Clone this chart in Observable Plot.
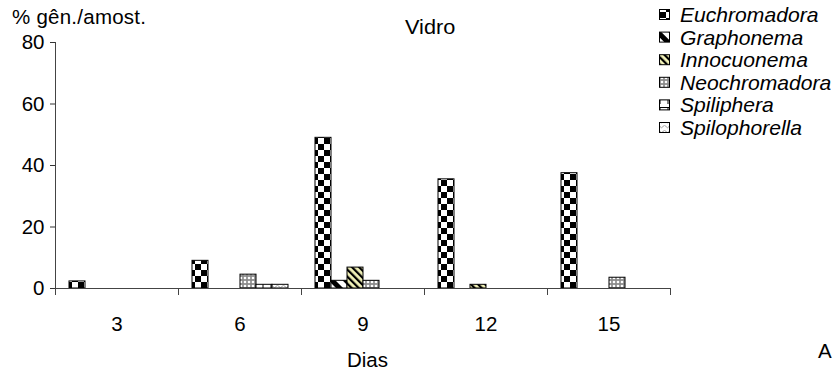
<!DOCTYPE html>
<html><head><meta charset="utf-8">
<script src="https://cdn.jsdelivr.net/npm/d3@7"></script>
<script src="https://cdn.jsdelivr.net/npm/@observablehq/plot@0.6"></script>
<style>
body{margin:0;background:#fff}
#chart svg text{font-family:"Liberation Sans",Arial,sans-serif}
</style>
</head><body>
<svg width="0" height="0" style="position:absolute">
<defs>
  <pattern id="pEuch" patternUnits="userSpaceOnUse" width="12" height="12">
    <rect width="12" height="12" fill="#fff"/>
    <rect x="0" y="0" width="6" height="6" fill="#000"/>
    <rect x="6" y="6" width="6" height="6" fill="#000"/>
  </pattern>
  <pattern id="pGraph" patternUnits="userSpaceOnUse" width="10" height="10" patternTransform="rotate(-45)">
    <rect width="10" height="10" fill="#fff"/>
    <rect x="0" y="0" width="5" height="10" fill="#000"/>
  </pattern>
  <pattern id="pInnoc" patternUnits="userSpaceOnUse" width="5" height="5" patternTransform="rotate(-45)">
    <rect width="5" height="5" fill="#f2f2b8"/>
    <rect x="0" y="0" width="2.2" height="5" fill="#000"/>
  </pattern>
  <pattern id="pNeo" patternUnits="userSpaceOnUse" width="4" height="4">
    <rect width="4" height="4" fill="#8c8c8c"/>
    <circle cx="2" cy="2" r="1.3" fill="#fff"/>
  </pattern>
  <pattern id="pSpiliph" patternUnits="userSpaceOnUse" width="8" height="8">
    <rect width="8" height="8" fill="#fff"/>
    <line x1="0" y1="3.5" x2="8" y2="3.5" stroke="#000" stroke-width="1"/>
    <line x1="4" y1="3.5" x2="4" y2="8" stroke="#000" stroke-width="1"/>
  </pattern>
  <pattern id="pSpiloph" patternUnits="userSpaceOnUse" width="6" height="5">
    <rect width="6" height="5" fill="#fff"/>
    <path d="M0,1.5 Q1.5,4 3,1.5 T6,1.5" fill="none" stroke="#888" stroke-width="0.8"/>
  </pattern>
</defs>
</svg>
<div id="chart"></div>
<script>
const dias = [3, 6, 9, 12, 15];
const generos = ["Euchromadora", "Graphonema", "Innocuonema", "Neochromadora", "Spiliphera", "Spilophorella"];
const euchromadora  = [2.3, 9, 49, 35.5, 37.5];
const graphonema    = [0, 0, 2.5, 0, 0];
const innocuonema   = [0, 0, 6.8, 1.2, 0];
const neochromadora = [0, 4.5, 2.5, 0, 3.5];
const spiliphera    = [0, 1.2, 0, 0, 0];
const spilophorella = [0, 1.2, 0, 0, 0];
const yTicks = [0, 20, 40, 60, 80];
const yDomain = [0, 80];
const padroes = ["url(#pEuch)", "url(#pGraph)", "url(#pInnoc)", "url(#pNeo)", "url(#pSpiliph)", "url(#pSpiloph)"];

const series = [euchromadora, graphonema, innocuonema, neochromadora, spiliphera, spilophorella];
const rows = [];
generos.forEach((g, i) => dias.forEach((d, j) => {
  if (series[i][j] > 0) rows.push({dia: d, genero: g, valor: series[i][j]});
}));

const FONT = "Liberation Sans, Arial, sans-serif";
const FS = 20.5;
const plot = Plot.plot({
  width: 836, height: 375,
  marginTop: 42, marginBottom: 87, marginLeft: 55, marginRight: 166,
  style: {fontFamily: FONT, fontSize: FS + "px", color: "#000", background: "#fff", overflow: "visible"},
  fx: {domain: dias, padding: 0, label: null, axis: null},
  x: {domain: generos, paddingInner: 0, paddingOuter: 0.73, axis: null},
  y: {domain: yDomain, label: null, axis: null},
  color: {domain: generos, range: padroes},
  marks: [
    Plot.axisY({ticks: yTicks, tickSize: 5, tickPadding: 6, stroke: "#333", fill: "#000", label: null}),
    Plot.axisFx({anchor: "bottom", tickSize: 0, tickPadding: 28, label: null, fill: "#000"}),
    Plot.barY(rows, {fx: "dia", x: "genero", y: "valor", fill: "genero", stroke: "#000", strokeWidth: 1}),
    Plot.ruleY([0], {stroke: "#444"})
  ]
});
document.getElementById("chart").appendChild(plot);

const svg = d3.select(plot);
const fx = plot.scale("fx");
const ys = plot.scale("y");
const y0 = ys.apply(0), yTop = ys.apply(yDomain[1]);
const x0 = fx.apply(dias[0]);
const bounds = dias.map(d => fx.apply(d)).concat([fx.apply(dias[dias.length - 1]) + fx.bandwidth]);

const g = svg.append("g").attr("stroke", "#444").attr("stroke-width", 1);
g.append("line").attr("x1", x0 + 0.5).attr("x2", x0 + 0.5).attr("y1", yTop).attr("y2", y0);
bounds.forEach(b => g.append("line").attr("x1", b + 0.5).attr("x2", b + 0.5).attr("y1", y0).attr("y2", y0 + 7));

const t = svg.append("g").attr("font-family", FONT).attr("font-size", FS).attr("fill", "#000").attr("text-anchor", "start");
t.append("text").attr("x", 12).attr("y", 24).attr("textLength", 134).text("% gên./amost.");
t.append("text").attr("transform", "translate(405,34) scale(1.06,1)").text("Vidro");
t.append("text").attr("x", (bounds[0] + bounds[bounds.length - 1]) / 2 + 5).attr("y", 367).attr("text-anchor", "middle").text("Dias");
t.append("text").attr("x", 818).attr("y", 358).text("A");

const leg = svg.append("g").attr("font-family", FONT).attr("font-size", FS).attr("text-anchor", "start");
generos.forEach((gn, i) => {
  const cy = 15 + i * 22.6;
  leg.append("rect").attr("x", 659.5).attr("y", cy - 5.5).attr("width", 10).attr("height", 10)
    .attr("fill", padroes[i]).attr("stroke", "#000").attr("stroke-width", 1);
  leg.append("text").attr("transform", `translate(680,${cy + 7}) scale(1.03,1)`).attr("font-style", "italic").text(gn);
});
</script>
</body></html>
